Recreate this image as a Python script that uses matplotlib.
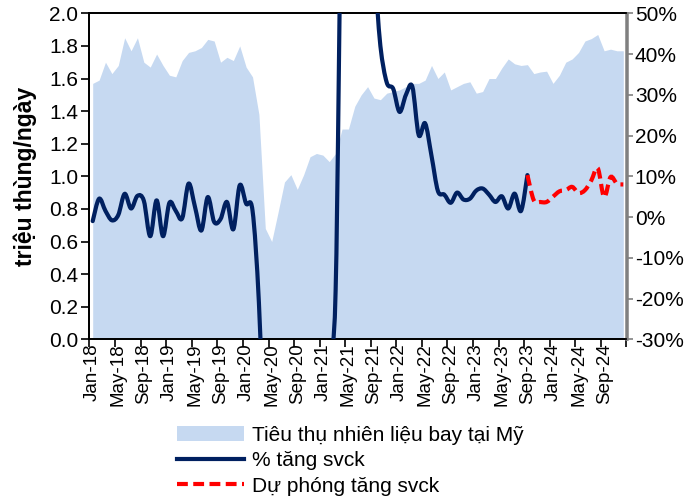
import matplotlib
matplotlib.use("Agg")
import matplotlib.pyplot as plt
import numpy as np
from matplotlib.path import Path
from matplotlib.patches import PathPatch, Patch
from matplotlib.lines import Line2D

plt.rcParams['font.family'] = ['Liberation Sans', 'DejaVu Sans']

# ---------------- data ----------------
tick_labels = ["Jan-18", "May-18", "Sep-18", "Jan-19", "May-19", "Sep-19", "Jan-20",
               "May-20", "Sep-20", "Jan-21", "May-21", "Sep-21", "Jan-22", "May-22",
               "Sep-22", "Jan-23", "May-23", "Sep-23", "Jan-24", "May-24", "Sep-24"]

# monthly US jet fuel consumption (million barrels/day), Jan-18 .. Dec-24
consumption = [1.57, 1.59, 1.70, 1.63, 1.68, 1.85, 1.77, 1.85, 1.70, 1.67, 1.75, 1.68,
               1.62, 1.61, 1.71, 1.76, 1.77, 1.79, 1.84, 1.83, 1.70, 1.73, 1.71, 1.80,
               1.67, 1.61, 1.38, 0.68, 0.60, 0.78, 0.965, 1.01, 0.92, 1.01, 1.12, 1.14,
               1.13, 1.09, 1.14, 1.29, 1.29, 1.43, 1.50, 1.55, 1.48, 1.47, 1.51, 1.52,
               1.53, 1.55, 1.57, 1.57, 1.59, 1.68, 1.60, 1.64, 1.53, 1.55, 1.57, 1.58,
               1.51, 1.52, 1.60, 1.60, 1.665, 1.72, 1.69, 1.68, 1.685, 1.63, 1.64, 1.645,
               1.57, 1.62, 1.70, 1.72, 1.76, 1.83, 1.845, 1.87, 1.77, 1.78, 1.77, 1.77]

# YoY growth (%), Jan-18 .. Sep-23
yoy = [-1.0, 4.5, 1.5, -0.8, 0.5, 5.7, 2.1, 5.2, 4.0, -4.7, 4.1, -4.7,
       3.5, 1.5, -0.3, 8.2, 2.5, -3.3, 4.9, -1.2, -0.5, 3.7, -3.0, 7.8,
       3.3, 1.6, -21.0, -61.0, -66.0, -55.0, -46.0, -45.0, -48.0, -43.0, -36.0, -37.0,
       -34.0, -31.0, -18.0, 90.0, 115.0, 83.0, 55.0, 53.0, 60.0, 42.0, 33.0, 31.5,
       25.8, 30.0, 32.0, 20.1, 23.0, 15.0, 6.4, 5.5, 3.5, 6.0, 4.3, 4.5,
       6.5, 7.0, 5.5, 3.7, 5.1, 2.1, 5.75, 1.5, 10.3]

# forecast YoY growth (%), Sep-23 .. Dec-24
forecast = [10.3, 4.1, 3.7, 3.7, 5.0, 6.3, 6.6, 7.4, 5.9, 6.6, 9.0, 12.0, 4.9, 9.8, 8.2, 8.0]

# ---------------- style ----------------
AREA = "#C6D9F1"
NAVY = "#002060"
RED = "#FF0000"
FS_Y = 15
FS_X = 13.5
FS_LAB = 15
LW = 3.0
DASH = (0, (2.6, 1.3))

n = len(consumption)
x_all = np.arange(n)
x_yoy = np.arange(len(yoy))
x_fc = np.arange(len(yoy) - 1, len(yoy) - 1 + len(forecast))


def smooth_path(xs, ys):
    """Excel-style smoothed line as cubic Bezier path in data coordinates."""
    xs = np.asarray(xs, float)
    ys = np.asarray(ys, float)
    pts = np.column_stack([xs, ys])
    verts = [pts[0]]
    codes = [Path.MOVETO]
    m = len(pts)
    for i in range(m - 1):
        p0 = pts[i - 1] if i > 0 else pts[i]
        p1 = pts[i]
        p2 = pts[i + 1]
        p3 = pts[i + 2] if i + 2 < m else pts[i + 1]
        c1 = p1 + (p2 - p0) / 6.0
        c2 = p2 - (p3 - p1) / 6.0
        verts += [c1, c2, p2]
        codes += [Path.CURVE4] * 3
    return Path(verts, codes)


fig = plt.figure(figsize=(6.94, 4.97), dpi=100)
ax = fig.add_axes([89.5 / 694, 1 - 339.3 / 497, 537 / 694, 326 / 497])
ax2 = ax.twinx()

ax.fill_between(x_all, 0, consumption, color=AREA, linewidth=0, zorder=1)
ax.set_xlim(-0.5, n - 0.5)
ax.set_ylim(0, 2.0)
ax.set_yticks(np.arange(0, 2.01, 0.2))
ax.set_yticklabels([f"{v:.1f}" for v in np.arange(0, 2.01, 0.2)], fontsize=FS_Y)
ax.set_ylabel("triệu thùng/ngày", fontsize=16.5, fontweight="bold", labelpad=9)

# x ticks at category boundaries, labels at category centres
ax.set_xticks(np.arange(-0.5, n, 4))
ax.set_xticklabels([])
ax.set_xticks(np.arange(0, n, 4)[:len(tick_labels)], minor=True)
ax.set_xticklabels(tick_labels, minor=True, rotation=90, fontsize=FS_X)
ax.tick_params(axis="x", which="major", direction="out", length=6, width=1.2, color="black")
ax.tick_params(axis="x", which="minor", length=0, pad=3)
ax.tick_params(axis="y", direction="out", length=6, width=1.2, color="black", pad=2)

ax2.set_ylim(-30, 50)
ax2.set_yticks(np.arange(-30, 51, 10))
ax2.set_yticklabels([f"{v}%" for v in range(-30, 51, 10)], fontsize=FS_Y)
ax2.tick_params(axis="y", direction="out", length=5, width=1.2, color="#808080", pad=1)

for a in (ax, ax2):
    a.spines["left"].set_color("black")
    a.spines["bottom"].set_color("black")
    a.spines["top"].set_color("black")
    a.spines["right"].set_color("#808080")
    for s in a.spines.values():
        s.set_linewidth(1.3)
    a.spines["right"].set_linewidth(1.8)

ax2.add_patch(PathPatch(smooth_path(x_yoy, yoy), facecolor="none", edgecolor=NAVY,
                        linewidth=LW, capstyle="round", joinstyle="round",
                        transform=ax2.transData, zorder=3))
ax2.add_patch(PathPatch(smooth_path(x_fc, forecast), facecolor="none", edgecolor=RED,
                        linewidth=LW, linestyle=DASH, capstyle="butt",
                        transform=ax2.transData, zorder=3))

handles = [Patch(facecolor=AREA, edgecolor="none"),
           Line2D([0], [0], color=NAVY, lw=LW),
           Line2D([0], [0], color=RED, lw=LW, linestyle=DASH)]
labels = ["Tiêu thụ nhiên liệu bay tại Mỹ", "% tăng svck", "Dự phóng tăng svck"]
fig.legend(handles, labels, loc="upper left", bbox_to_anchor=(177 / 694, 1 - 426 / 497),
           frameon=False, fontsize=FS_LAB, handlelength=3.2, handleheight=0.7,
           handletextpad=0.4, labelspacing=0.3, borderaxespad=0, borderpad=0)

fig.savefig("out.png", dpi=100)
